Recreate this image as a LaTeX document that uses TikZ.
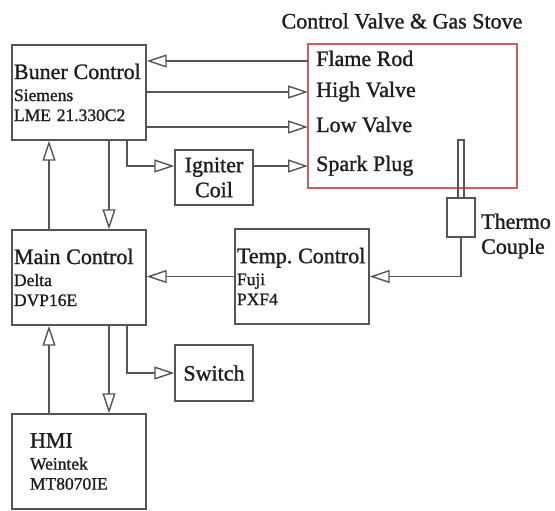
\documentclass[tikz,border=0pt]{standalone}
\usepackage{fontspec}
\setmainfont{Liberation Serif}[FakeBold=1.2]
\usetikzlibrary{arrows.meta,positioning,calc}
\definecolor{LineGray}{HTML}{555555}
\definecolor{TextDark}{HTML}{1E1E1E}
\definecolor{StoveRed}{HTML}{D65A5A}
\newcommand{\bigtxt}{\fontsize{22}{25}\selectfont}
\newcommand{\smalltxt}{\fontsize{17.5}{20}\selectfont}
\frenchspacing

\begin{document}
\begin{tikzpicture}[x=1pt,y=-1pt,
unit/.style={draw=LineGray,line width=1.4pt,minimum height=95pt,text width=130pt,inner xsep=2pt,align=left,font=\smalltxt,text=TextDark},
smallunit/.style={draw=LineGray,line width=1.4pt,minimum width=78pt,align=center,font=\bigtxt,text=TextDark},
port/.style={anchor=west,inner xsep=8pt,inner ysep=0pt,text height=15pt,text depth=5pt,font=\bigtxt,text=TextDark},
arr/.style={-{Triangle[open,length=20pt,width=13pt]},line width=1.4pt,draw=LineGray}
]
\useasboundingbox (0,0) rectangle (555,511);
% Control valve and gas stove
\node[font=\bigtxt,text=TextDark] (title) at (402,21) {Control Valve \& Gas Stove};
\node[draw=StoveRed,line width=1.4pt,minimum width=209pt,minimum height=144pt] (stove) at (412.5,116) {};
\node[port] (flame) at (308,61) {Flame Rod};
\node[port] (high) at (308,92) {High Valve};
\node[port] (low) at (308,127) {Low Valve};
\node[port] (spark) at (308,166) {Spark Plug};
\node[draw=LineGray,line width=1.4pt,minimum width=6pt,minimum height=58pt,inner sep=0pt] (rod) at (461,169) {};
\node[draw=LineGray,line width=1.4pt,minimum width=28pt,minimum height=39pt,inner sep=0pt] (thermo) at (461,217.5) {};
\node[font=\bigtxt,text=TextDark,align=left,anchor=west,inner sep=0pt] (tclabel) at (481,236) {Thermo\\ Couple};

% Controllers
\node[unit] (burner) at (79,92.5) {{\bigtxt Buner Control}\\[2pt] Siemens\\ LME 21.330C2};
\node[unit] (main) at (79,277.5) {{\bigtxt Main Control}\\[2pt] Delta\\ DVP16E};
\node[unit,inner xsep=18pt,text width=98pt] (hmi) at (79,461.5) {{\bigtxt HMI}\\[2pt] Weintek\\ MT8070IE};
\node[unit] (temp) at (302,276.5) {{\bigtxt \mbox{Temp. Control}}\\[2pt] Fuji\\ PXF4};
\node[smallunit,minimum height=55pt] (igniter) at (214,177.5) {Igniter\\ Coil};
\node[smallunit,minimum height=56pt] (switch) at (214,373) {Switch};

% Signals
\draw[arr] (flame.west) -- (burner.east |- flame.west);
\draw[arr] (burner.east |- high.west) -- (high.west);
\draw[arr] (burner.east |- low.west) -- (low.west);
\draw[arr] ([xshift=48pt]burner.south) |- ([yshift=11.5pt]igniter.west);
\draw[arr] ([yshift=11.5pt]igniter.east) -- (spark.west);
\draw[arr] ([xshift=-30pt]main.north) -- ([xshift=-30pt]burner.south);
\draw[arr] ([xshift=30pt]burner.south) -- ([xshift=30pt]main.north);
\draw[arr] ([xshift=-30pt]hmi.north) -- ([xshift=-30pt]main.south);
\draw[arr] ([xshift=30pt]main.south) -- ([xshift=30pt]hmi.north);
\draw[arr] ([xshift=48pt]main.south) |- (switch.west);
\draw[arr] (temp.west) -- (main.east |- temp.west);
\draw[arr] (thermo.south) |- (temp.east);
\end{tikzpicture}
\end{document}
